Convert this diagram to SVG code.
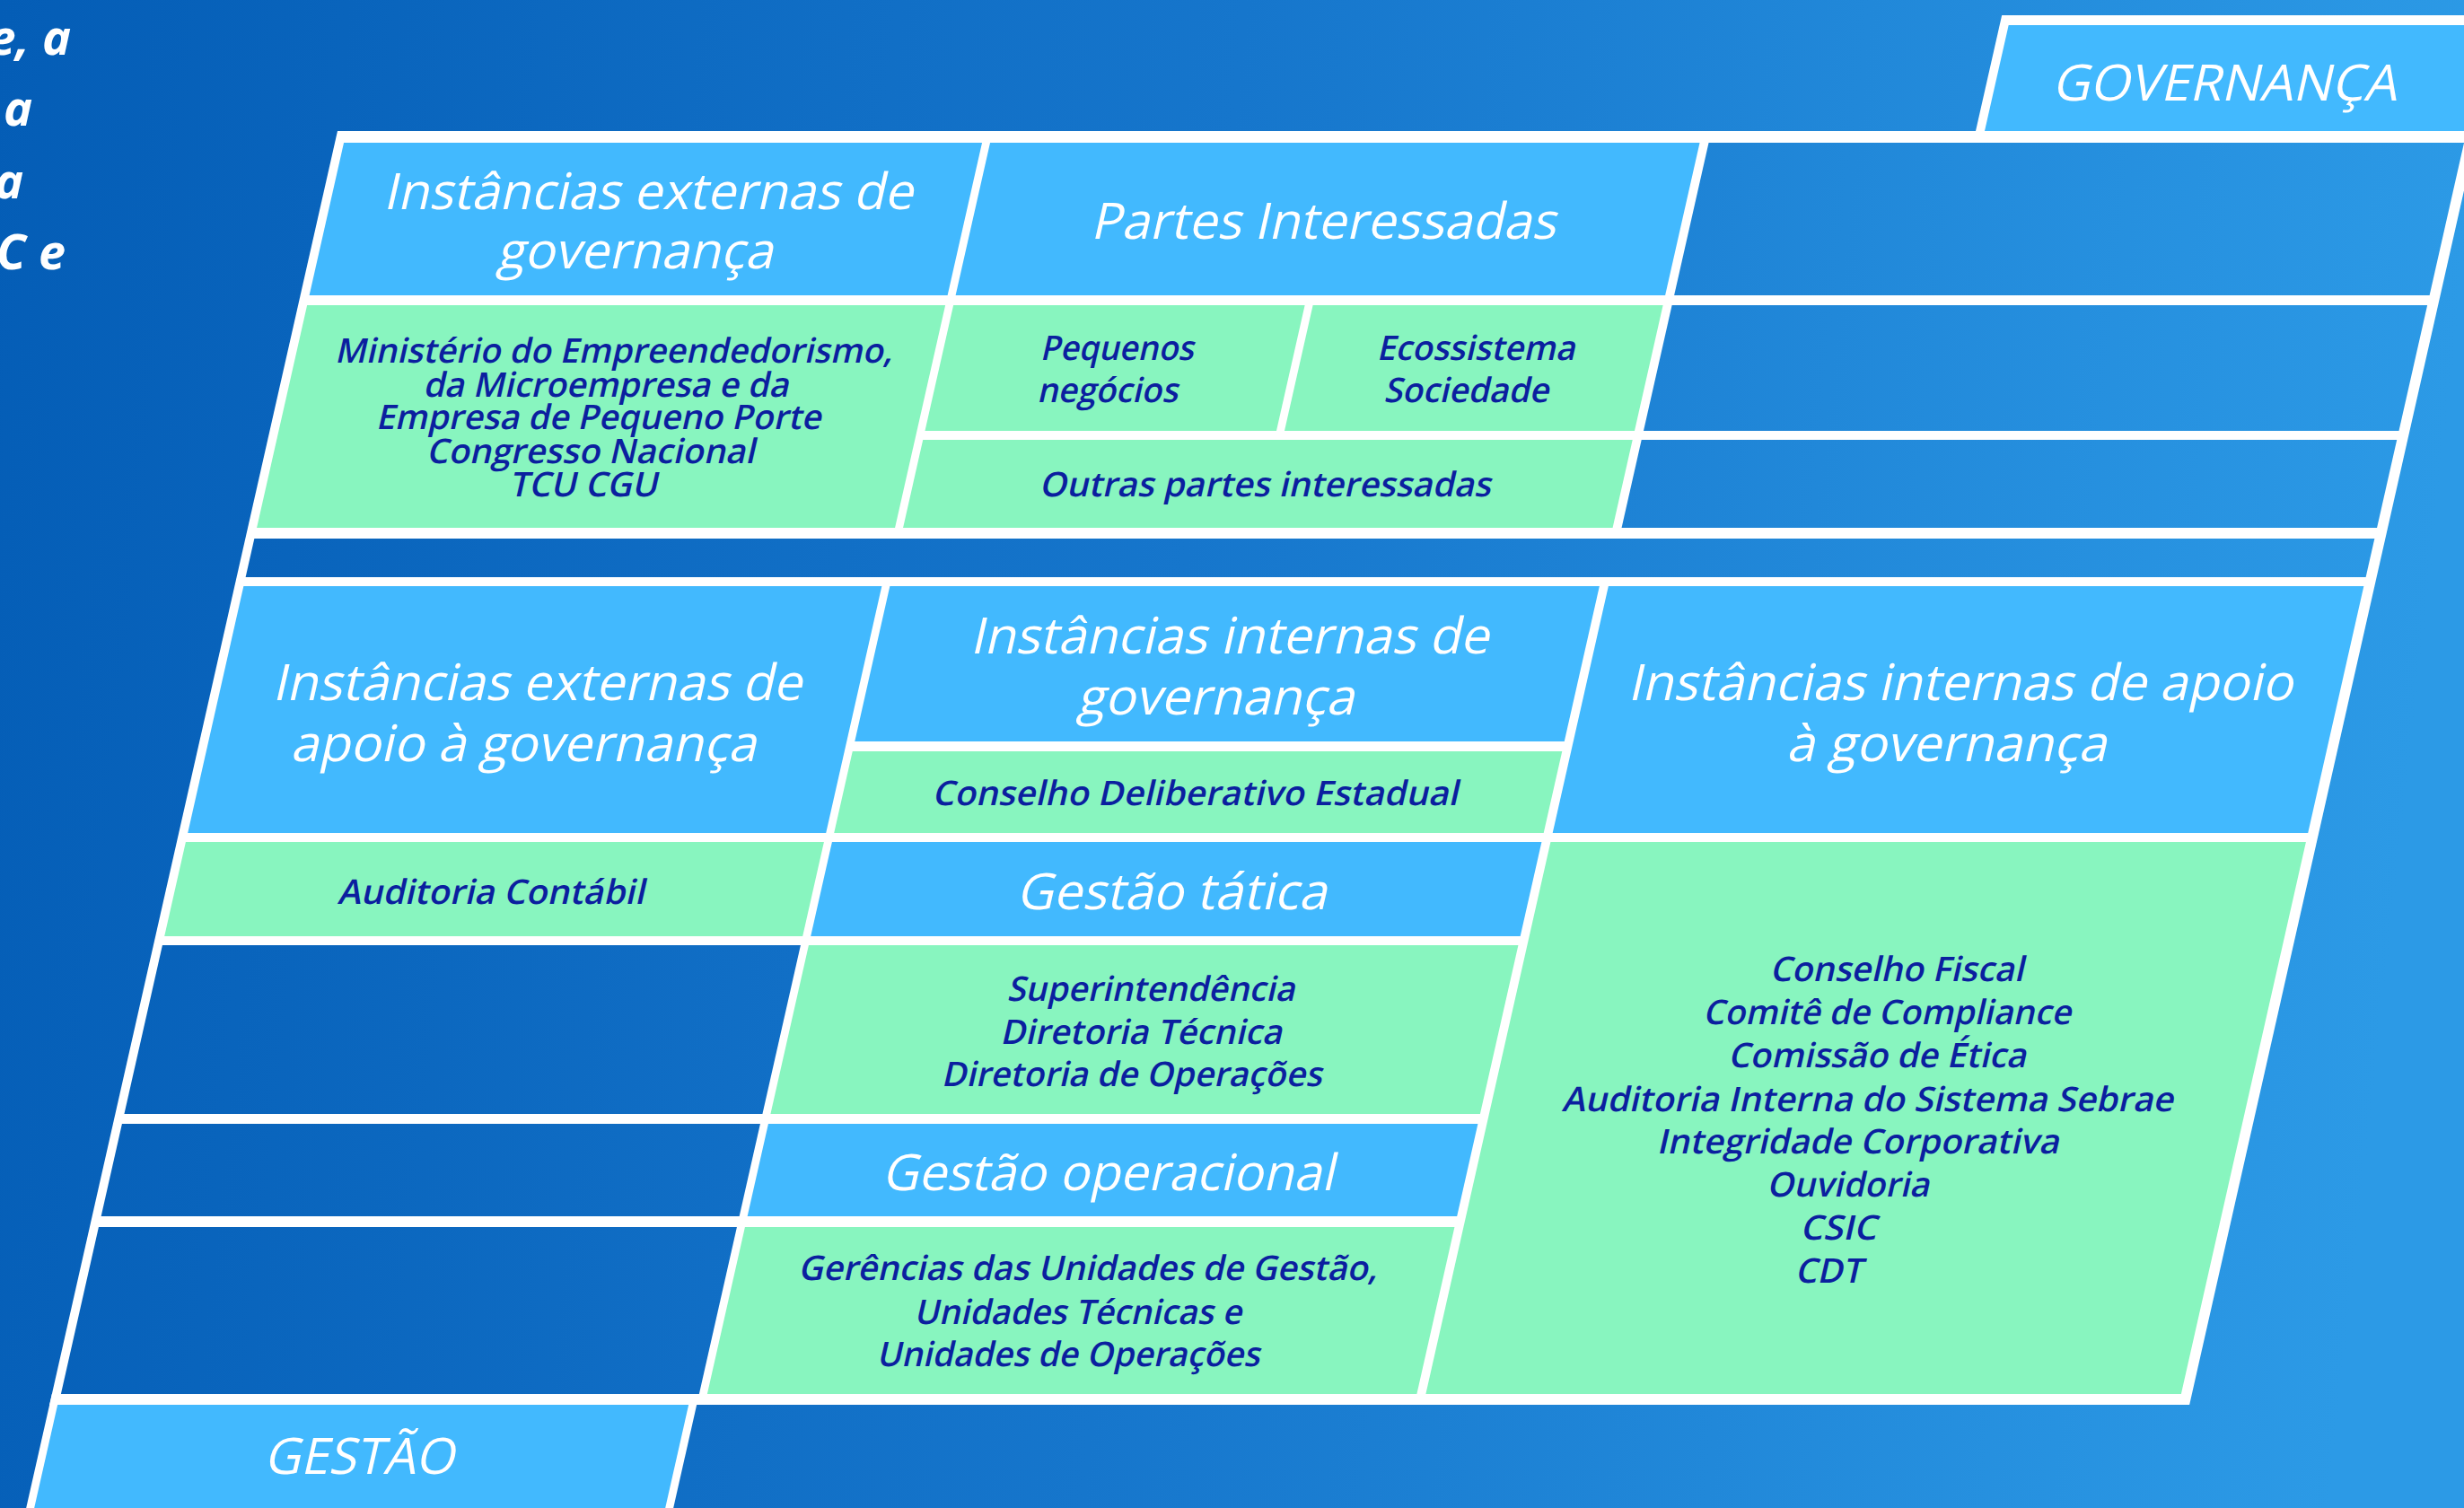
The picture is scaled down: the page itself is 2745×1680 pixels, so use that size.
<svg xmlns="http://www.w3.org/2000/svg" width="2745" height="1680" viewBox="0 0 2745 1680">
<defs>
<linearGradient id="bg" gradientUnits="userSpaceOnUse" x1="0" y1="0" x2="2745" y2="300">
<stop offset="0" stop-color="#045db6"/><stop offset="0.5" stop-color="#1676cc"/><stop offset="1" stop-color="#2c9ae6"/>
</linearGradient>
<linearGradient id="bgc" gradientUnits="userSpaceOnUse" x1="0" y1="0" x2="2745" y2="300" gradientTransform="skewX(12.74)">
<stop offset="0" stop-color="#045db6"/><stop offset="0.5" stop-color="#1676cc"/><stop offset="1" stop-color="#2c9ae6"/>
</linearGradient>
<style>
.lb{fill:#42b9fe}
.gr{fill:#88f5bf}
.dk{fill:url(#bgc)}
.wh{fill:#ffffff}
.h{font-family:"Open Sans","Noto Sans",sans-serif;font-size:56px;fill:#ffffff;text-anchor:middle}
.n{font-family:"Open Sans","Noto Sans",sans-serif;font-size:38px;font-weight:600;fill:#0b1f9f;text-anchor:middle}
.side{font-family:"Open Sans","Noto Sans",sans-serif;font-size:54px;font-weight:bold;font-style:italic;fill:#ffffff;text-anchor:end}
</style>
</defs>
<rect x="0" y="0" width="2745" height="1680" fill="url(#bg)"/>
<g id="side-text">
<text class="side" x="79" y="61">e, a</text>
<text class="side" x="36" y="140">a</text>
<text class="side" x="26" y="221">a</text>
<text class="side" x="73" y="300">C e</text>
</g>
<g transform="skewX(-12.74)">
<g id="frame">
<rect class="wh" x="409" y="146" width="2384" height="1419"/>
<rect class="wh" x="2234" y="17" width="1000" height="140"/>
<rect class="wh" x="409" y="1553" width="721" height="200"/>
</g>
<g id="tab-governanca">
<rect class="lb" x="2244" y="28" width="900" height="118"/>
<text class="h" x="2503" y="112" textLength="384" lengthAdjust="spacingAndGlyphs">GOVERNANÇA</text>
</g>
<g id="instancias-externas-governanca">
<rect class="lb" x="419" y="159" width="711" height="170"/>
<text class="h" x="774.5" y="233" textLength="590" lengthAdjust="spacingAndGlyphs">Instâncias externas de</text>
<text class="h" x="774.5" y="299" textLength="308" lengthAdjust="spacingAndGlyphs">governança</text>
</g>
<g id="partes-interessadas">
<rect class="lb" x="1139" y="159" width="790.5" height="170"/>
<text class="h" x="1534" y="266" textLength="518" lengthAdjust="spacingAndGlyphs">Partes Interessadas</text>
</g>
<g id="gov-empty-1"><rect class="dk" x="1939.5" y="159" width="841.5" height="170"/></g>
<g id="ministerio">
<rect class="gr" x="419" y="340" width="711" height="248"/>
<text class="n" x="774.5" y="404" textLength="621" lengthAdjust="spacingAndGlyphs">Ministério do Empreendedorismo,</text>
<text class="n" x="774.5" y="441.7" textLength="407" lengthAdjust="spacingAndGlyphs">da Microempresa e da</text>
<text class="n" x="774.5" y="478" textLength="496" lengthAdjust="spacingAndGlyphs">Empresa de Pequeno Porte</text>
<text class="n" x="774.5" y="516" textLength="366" lengthAdjust="spacingAndGlyphs">Congresso Nacional</text>
<text class="n" x="774.5" y="552.7" textLength="165" lengthAdjust="spacingAndGlyphs">TCU CGU</text>
</g>
<g id="pequenos-negocios">
<rect class="gr" x="1139" y="340" width="391.5" height="140"/>
<text class="n" x="1334.7" y="400.7" textLength="171" lengthAdjust="spacingAndGlyphs">Pequenos</text>
<text class="n" x="1334.7" y="448" textLength="157" lengthAdjust="spacingAndGlyphs">negócios</text>
</g>
<g id="ecossistema">
<rect class="gr" x="1539.5" y="340" width="390" height="140"/>
<text class="n" x="1734.5" y="400.7" textLength="221" lengthAdjust="spacingAndGlyphs">Ecossistema</text>
<text class="n" x="1734.5" y="448" textLength="184" lengthAdjust="spacingAndGlyphs">Sociedade</text>
</g>
<g id="gov-empty-2"><rect class="dk" x="1939.5" y="340" width="841.5" height="140"/></g>
<g id="outras-partes">
<rect class="gr" x="1139" y="490" width="790.5" height="98"/>
<text class="n" x="1534" y="553" textLength="503" lengthAdjust="spacingAndGlyphs">Outras partes interessadas</text>
</g>
<g id="gov-empty-3"><rect class="dk" x="1939.5" y="490" width="841.5" height="98"/></g>
<g id="band-empty"><rect class="dk" x="419" y="600" width="2362" height="43"/></g>
<g id="instancias-externas-apoio">
<rect class="lb" x="419" y="653" width="711" height="275"/>
<text class="h" x="774.5" y="780" textLength="590" lengthAdjust="spacingAndGlyphs">Instâncias externas de</text>
<text class="h" x="774.5" y="848" textLength="519" lengthAdjust="spacingAndGlyphs">apoio à governança</text>
</g>
<g id="instancias-internas-governanca">
<rect class="lb" x="1139" y="653" width="790.5" height="173"/>
<text class="h" x="1534" y="728" textLength="578" lengthAdjust="spacingAndGlyphs">Instâncias internas de</text>
<text class="h" x="1534" y="796" textLength="309" lengthAdjust="spacingAndGlyphs">governança</text>
</g>
<g id="conselho-deliberativo">
<rect class="gr" x="1139" y="837" width="790.5" height="91"/>
<text class="n" x="1534" y="897" textLength="586" lengthAdjust="spacingAndGlyphs">Conselho Deliberativo Estadual</text>
</g>
<g id="instancias-internas-apoio">
<rect class="lb" x="1939.5" y="653" width="841.5" height="275"/>
<text class="h" x="2360" y="780" textLength="741" lengthAdjust="spacingAndGlyphs">Instâncias internas de apoio</text>
<text class="h" x="2360" y="848" textLength="357" lengthAdjust="spacingAndGlyphs">à governança</text>
</g>
<g id="auditoria-contabil">
<rect class="gr" x="419" y="938" width="711" height="105"/>
<text class="n" x="774.5" y="1007" textLength="342" lengthAdjust="spacingAndGlyphs">Auditoria Contábil</text>
</g>
<g id="gestao-tatica">
<rect class="lb" x="1139" y="938" width="790.5" height="105"/>
<text class="h" x="1534" y="1013" textLength="346" lengthAdjust="spacingAndGlyphs">Gestão tática</text>
</g>
<g id="apoio-interno-lista">
<rect class="gr" x="1939.5" y="938" width="841.5" height="615"/>
<text class="n" x="2360" y="1093" textLength="283" lengthAdjust="spacingAndGlyphs">Conselho Fiscal</text>
<text class="n" x="2360" y="1141" textLength="410" lengthAdjust="spacingAndGlyphs">Comitê de Compliance</text>
<text class="n" x="2360" y="1189.5" textLength="332" lengthAdjust="spacingAndGlyphs">Comissão de Ética</text>
<text class="n" x="2360" y="1237.6" textLength="681" lengthAdjust="spacingAndGlyphs">Auditoria Interna do Sistema Sebrae</text>
<text class="n" x="2360" y="1285" textLength="448" lengthAdjust="spacingAndGlyphs">Integridade Corporativa</text>
<text class="n" x="2360" y="1333" textLength="181" lengthAdjust="spacingAndGlyphs">Ouvidoria</text>
<text class="n" x="2360" y="1380.7" textLength="85" lengthAdjust="spacingAndGlyphs">CSIC</text>
<text class="n" x="2360" y="1429" textLength="75" lengthAdjust="spacingAndGlyphs">CDT</text>
</g>
<g id="gestao-empty-1"><rect class="dk" x="419" y="1053" width="711" height="188"/></g>
<g id="superintendencia">
<rect class="gr" x="1139" y="1053" width="790.5" height="188"/>
<text class="n" x="1534" y="1115" textLength="321" lengthAdjust="spacingAndGlyphs">Superintendência</text>
<text class="n" x="1534" y="1163" textLength="314" lengthAdjust="spacingAndGlyphs">Diretoria Técnica</text>
<text class="n" x="1534" y="1210" textLength="424" lengthAdjust="spacingAndGlyphs">Diretoria de Operações</text>
</g>
<g id="gestao-empty-2"><rect class="dk" x="419" y="1252" width="711" height="103"/></g>
<g id="gestao-operacional">
<rect class="lb" x="1139" y="1252" width="790.5" height="103"/>
<text class="h" x="1534" y="1326" textLength="504" lengthAdjust="spacingAndGlyphs">Gestão operacional</text>
</g>
<g id="gestao-empty-3"><rect class="dk" x="419" y="1367" width="711" height="186"/></g>
<g id="gerencias">
<rect class="gr" x="1139" y="1367" width="790.5" height="186"/>
<text class="n" x="1534" y="1426.5" textLength="645" lengthAdjust="spacingAndGlyphs">Gerências das Unidades de Gestão,</text>
<text class="n" x="1534" y="1475" textLength="365" lengthAdjust="spacingAndGlyphs">Unidades Técnicas e</text>
<text class="n" x="1534" y="1522.5" textLength="427" lengthAdjust="spacingAndGlyphs">Unidades de Operações</text>
</g>
<g id="tab-gestao">
<rect class="lb" x="418" y="1565" width="703" height="200"/>
<text class="h" x="771" y="1642" textLength="212" lengthAdjust="spacingAndGlyphs">GESTÃO</text>
</g>
<g id="connectors"/>
</g>
</svg>
